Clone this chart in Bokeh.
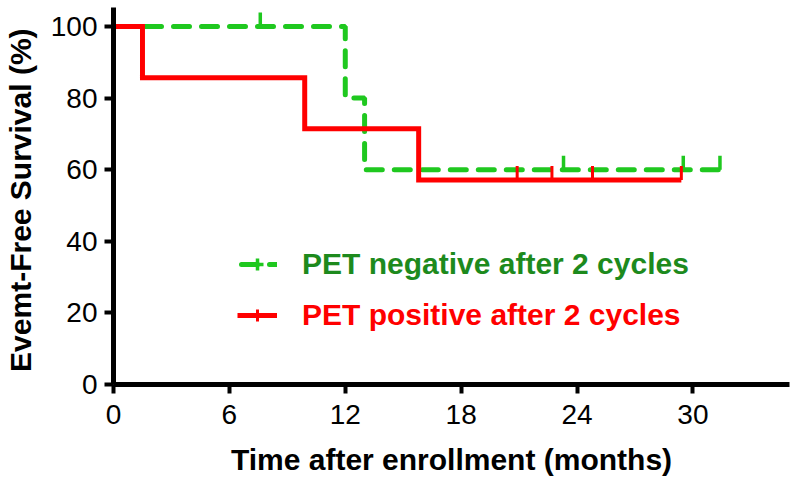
import math
from bokeh.plotting import figure
from bokeh.models import Range1d, FixedTicker, Legend, LegendItem
from bokeh.embed import file_html
from bokeh.resources import INLINE

# ---- data ----
x_ticks = [0, 6, 12, 18, 24, 30]
y_ticks = [0, 20, 40, 60, 80, 100]

neg_time = [0, 12.0, 13.0, 31.4]
neg_surv = [100, 80, 60, 60]
neg_cens_time = [7.6, 23.3, 29.5, 31.4]
neg_cens_surv = [100, 60, 60, 60]

pos_time = [0, 1.5, 9.9, 15.8, 29.4]
pos_surv = [100, 85.7, 71.4, 57.1, 57.1]
pos_cens_time = [20.9, 22.7, 24.8, 29.4]
pos_cens_surv = [57.1, 57.1, 57.1, 57.1]

series_labels = ["PET negative after 2 cycles", "PET positive after 2 cycles"]
x_title = "Time after enrollment (months)"
y_title = "Evemt-Free  Survival (%)"

# ---- style ----
FONT = "Liberation Sans"
GREEN = "#1fc81f"
GREEN_TEXT = "#1d8a1d"
RED = "#ff0000"
TICK_LIFT = 1.95  # censor tick centre above the curve, in % units

p = figure(width=800, height=484,
           x_range=Range1d(0, 35), y_range=Range1d(0, 105.3),
           output_backend="svg", toolbar_location=None,
           min_border_left=113, min_border_right=11,
           min_border_top=7, min_border_bottom=100)
p.outline_line_color = None
p.xgrid.visible = False
p.ygrid.visible = False
p.background_fill_color = "white"
p.border_fill_color = "white"

# green (PET negative) curve
g_line = p.step(neg_time, neg_surv, mode="after", line_color=GREEN,
                line_width=5, line_dash="16 12", line_dash_offset=24,
                line_cap="round")
p.scatter(neg_cens_time, [s + TICK_LIFT for s in neg_cens_surv],
          marker="dash", angle=math.pi / 2, size=14,
          line_color=GREEN, line_width=3.5)
# key-only marker (zero size on the plot, drawn by the legend)
g_key = p.scatter(neg_cens_time, neg_cens_surv, marker="cross", size=0,
                  line_color=GREEN, line_width=3.5)

# red (PET positive) curve
r_line = p.step(pos_time, pos_surv, mode="after", line_color=RED,
                line_width=5, line_join="miter")
p.scatter(pos_cens_time, [s + TICK_LIFT for s in pos_cens_surv],
          marker="dash", angle=math.pi / 2, size=14,
          line_color=RED, line_width=3)
r_key = p.scatter(pos_cens_time, pos_cens_surv, marker="cross", size=0,
                  line_color=RED, line_width=3)

# axes
for ax in (p.xaxis[0], p.yaxis[0]):
    ax.axis_line_width = 5
    ax.axis_line_color = "black"
    ax.major_tick_line_width = 4
    ax.major_tick_out = 9
    ax.major_tick_in = 0
    ax.minor_tick_out = 0
    ax.minor_tick_in = 0
    ax.major_label_text_font = FONT
    ax.major_label_text_font_size = "28px"
    ax.major_label_text_color = "black"
    ax.axis_label_text_font = FONT
    ax.axis_label_text_font_size = "30px"
    ax.axis_label_text_font_style = "bold"
    ax.axis_label_text_color = "black"

p.xaxis[0].ticker = FixedTicker(ticks=x_ticks)
p.yaxis[0].ticker = FixedTicker(ticks=y_ticks)
p.xaxis[0].axis_label = x_title
p.yaxis[0].axis_label = y_title
p.xaxis[0].major_label_standoff = 11
p.yaxis[0].major_label_standoff = 7
p.xaxis[0].axis_label_standoff = 16
p.yaxis[0].axis_label_standoff = 11


def make_legend(label, renderers, loc, color):
    return Legend(items=[LegendItem(label=label, renderers=renderers)],
                  location=loc, orientation="vertical",
                  border_line_alpha=0, background_fill_alpha=0,
                  padding=0, margin=0, spacing=0,
                  glyph_width=40, glyph_height=30, label_standoff=25,
                  label_text_font=FONT, label_text_font_size="30px",
                  label_text_font_style="bold", label_text_color=color,
                  label_text_baseline="middle")


p.add_layout(make_legend(series_labels[0], [g_line, g_key], (124, 103), GREEN_TEXT))
p.add_layout(make_legend(series_labels[1], [r_line, r_key], (124, 52), RED))

open("out.html", "w").write(file_html(p, INLINE))
